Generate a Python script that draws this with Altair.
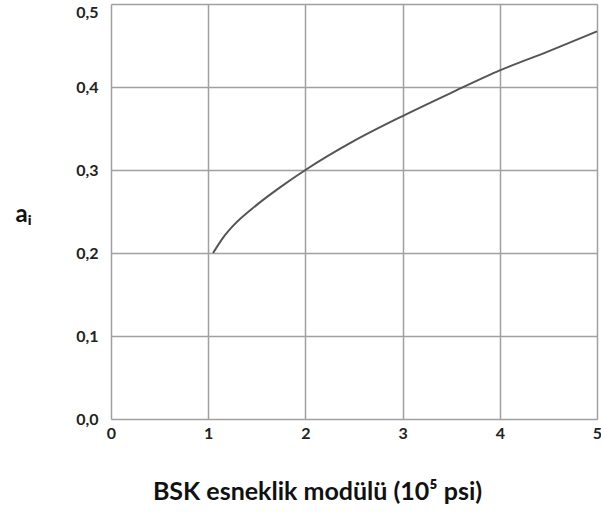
import altair as alt
import pandas as pd

modulus = [1.05, 1.15, 1.25, 1.5, 1.75, 2.0, 2.5, 3.0, 3.5, 4.0, 4.5, 5.0]
coef = [0.200, 0.218, 0.232, 0.258, 0.280, 0.300, 0.335, 0.365, 0.393, 0.420, 0.443, 0.467]
x_ticks = [0, 1, 2, 3, 4, 5]
y_ticks = [0.0, 0.1, 0.2, 0.3, 0.4, 0.5]

df = pd.DataFrame({"x": modulus, "y": coef})
FONT = "Lato"

chart = alt.Chart(df).mark_line(color="#555555", strokeWidth=2, interpolate="monotone").encode(
    x=alt.X("x:Q", scale=alt.Scale(domain=[0, 5], nice=False),
            axis=alt.Axis(values=x_ticks, grid=True, gridColor="#a0a0a0", gridWidth=1.5,
                          gridOpacity=1, domain=False, ticks=False, labelPadding=6,
                          labelFont=FONT, labelFontWeight="bold", labelFontSize=16,
                          labelColor="#222222", labelFlush=False,
                          title="BSK esneklik modülü (10⁵ psi)", titleFont=FONT,
                          titleFontWeight="bold", titleFontSize=25, titleColor="#111111",
                          titleX=206, titleY=72, titleBaseline="middle")),
    y=alt.Y("y:Q", scale=alt.Scale(domain=[0, 0.5], nice=False),
            axis=alt.Axis(values=y_ticks, grid=True, gridColor="#a0a0a0", gridWidth=1.5,
                          gridOpacity=1, domain=False, ticks=False, labelPadding=13,
                          labelExpr="replace(format(datum.value, '.1f'), '.', ',')",
                          labelFont=FONT, labelFontWeight="bold", labelFontSize=16,
                          labelColor="#222222", labelFlush=False,
                          labelBaseline=alt.condition("datum.value >= 0.5", alt.value("top"), alt.value("middle")),
                          title="aᵢ", titleAngle=0, titleFont=FONT, titleFontWeight="bold",
                          titleFontSize=24, titleColor="#111111",
                          titleX=-88, titleY=210, titleAlign="center", titleBaseline="middle")),
).properties(
    width=486, height=415,
    autosize=alt.AutoSizeParams(type="none"),
    padding={"left": 111, "top": 4, "right": 4, "bottom": 95},
).configure_view(stroke="#a0a0a0", strokeWidth=1.5).configure(background="white")

chart.save("out.html", embed_options={"renderer": "svg", "actions": False})
